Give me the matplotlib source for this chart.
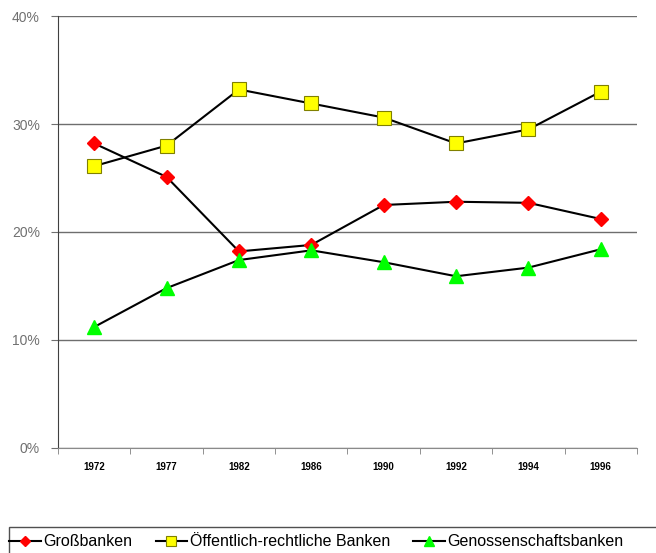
import matplotlib.pyplot as plt
from matplotlib.patches import Rectangle
from matplotlib.ticker import FixedLocator

plt.rcParams['font.family'] = ['Liberation Sans', 'DejaVu Sans']

years = ["1972", "1977", "1982", "1986", "1990", "1992", "1994", "1996"]
grossbanken = [28.2, 25.1, 18.2, 18.8, 22.5, 22.8, 22.7, 21.2]
oeffentlich = [26.1, 28.0, 33.2, 31.9, 30.6, 28.2, 29.5, 33.0]
genossen = [11.2, 14.8, 17.4, 18.3, 17.2, 15.9, 16.7, 18.4]

fig = plt.figure(figsize=(6.56, 5.53), dpi=100)
ax = fig.add_axes([0.0884, 0.19, 0.8826, 0.781])

x = list(range(len(years)))
ax.plot(x, grossbanken, color="black", lw=1.5, marker="D", ms=7,
        mfc="#ff0000", mec="#ff0000", label="Großbanken", zorder=3)
ax.plot(x, oeffentlich, color="black", lw=1.5, marker="s", ms=10,
        mfc="#ffff00", mec="#808000", mew=0.8,
        label="Öffentlich-rechtliche Banken", zorder=3)
ax.plot(x, genossen, color="black", lw=1.5, marker="^", ms=10,
        mfc="#00ff00", mec="#00ff00", label="Genossenschaftsbanken", zorder=3)

ax.set_xlim(-0.5, len(years) - 0.5)
ax.set_ylim(0, 40)
ax.set_yticks([0, 10, 20, 30, 40])
ax.set_yticklabels(["0%", "10%", "20%", "30%", "40%"], color="#707070",
                   fontsize=10)
ax.yaxis.grid(True, color="#6e6e6e", lw=1.0)
ax.set_axisbelow(True)
ax.tick_params(axis="y", length=5, color="#707070", pad=8)

ax.set_xticks(x)
ax.set_xticklabels(years, fontsize=7, fontweight="bold")
ax.tick_params(axis="x", which="major", length=0, pad=10)
ax.xaxis.set_minor_locator(FixedLocator([i - 0.5 for i in range(len(years) + 1)]))
ax.tick_params(axis="x", which="minor", length=4, color="#808080")

for s in ["top", "right"]:
    ax.spines[s].set_visible(False)
ax.spines["left"].set_color("#404040")
ax.spines["bottom"].set_color("#8a8a8a")

# legend frame runs past the right and bottom edge like in the original
fig.patches.append(Rectangle((9 / 656, -0.05), 1.0, 0.05 + 26 / 553,
                             transform=fig.transFigure, fill=False,
                             edgecolor="#505050", lw=1.0, clip_on=False))
fig.legend(loc="center left", bbox_to_anchor=(9 / 656, 1 - 542 / 553),
           ncol=3, fontsize=11.5, frameon=False, handlelength=2.0,
           handletextpad=0.15, columnspacing=1.45, borderaxespad=0,
           borderpad=0, markerscale=0.75)

fig.savefig("out.png", dpi=100)
